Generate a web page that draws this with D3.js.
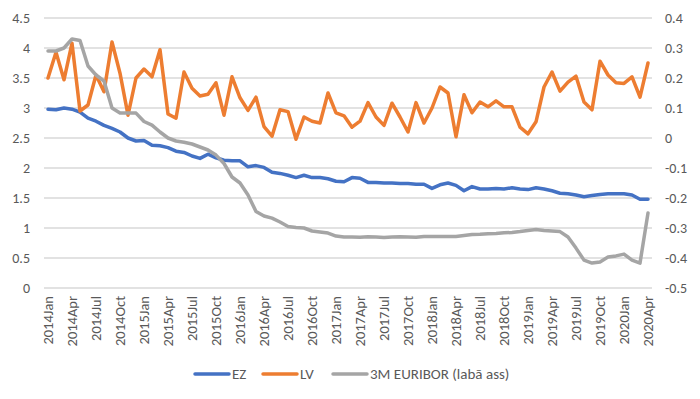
<!DOCTYPE html>
<html>
<head>
<meta charset="utf-8">
<script src="https://cdn.jsdelivr.net/npm/d3@7"></script>
<style>
  body { margin: 0; background: #fff; }
  text { font-family: Calibri, Carlito, "Liberation Sans", Arial, sans-serif; fill: #595959; }
</style>
</head>
<body>
<div id="chart"></div>
<script>
const years = [2014, 2015, 2016, 2017, 2018, 2019, 2020];
const monthNames = ['Jan', 'Feb', 'Mar', 'Apr', 'May', 'Jun', 'Jul', 'Aug', 'Sep', 'Oct', 'Nov', 'Dec'];
const categories = [];
years.forEach(y => monthNames.forEach(m => categories.push(y + m)));
categories.length = 76; // 2014Jan .. 2020Apr

const ez = [
    2.98, 2.97, 3.0, 2.98, 2.93, 2.83, 2.78, 2.71, 2.66, 2.6, 2.5, 2.45,
    2.46, 2.38, 2.37, 2.34, 2.28, 2.26, 2.2, 2.16, 2.23, 2.17, 2.13, 2.12,
    2.12, 2.02, 2.04, 2.01, 1.93, 1.91, 1.88, 1.84, 1.88, 1.84, 1.84, 1.82,
    1.78, 1.77, 1.84, 1.83, 1.76, 1.76, 1.75, 1.75, 1.74, 1.74, 1.73, 1.73,
    1.66, 1.72, 1.75, 1.71, 1.62, 1.69, 1.65, 1.65, 1.66, 1.65, 1.67, 1.65,
    1.64, 1.67, 1.65, 1.62, 1.58, 1.57, 1.55, 1.52, 1.54, 1.56, 1.57, 1.57,
    1.57, 1.55, 1.48, 1.48
];
const lv = [
    3.5, 3.93, 3.47, 4.08, 2.95, 3.05, 3.55, 3.27, 4.1, 3.58, 2.88, 3.5,
    3.65, 3.52, 3.97, 2.9, 2.83, 3.6, 3.33, 3.2, 3.23, 3.42, 2.88, 3.52,
    3.17, 2.96, 3.18, 2.69, 2.53, 2.97, 2.94, 2.48, 2.85, 2.78, 2.75, 3.25,
    2.92, 2.87, 2.68, 2.78, 3.09, 2.85, 2.71, 3.08, 2.85, 2.6, 3.09, 2.75,
    3.0, 3.35, 3.25, 2.52, 3.22, 2.92, 3.1, 3.02, 3.12, 3.02, 3.02, 2.68,
    2.57, 2.77, 3.35, 3.6, 3.28, 3.43, 3.53, 3.1, 2.97, 3.78, 3.55, 3.42,
    3.41, 3.52, 3.18, 3.75
];
const euribor = [
    0.29, 0.29, 0.30, 0.33, 0.325, 0.24, 0.21, 0.19, 0.10, 0.083, 0.083, 0.083,
    0.055, 0.043, 0.02, 0.0, -0.01, -0.014, -0.02, -0.03, -0.04, -0.057, -0.085, -0.13,
    -0.15, -0.19, -0.245, -0.26, -0.267, -0.28, -0.295, -0.298, -0.30, -0.31, -0.313, -0.317,
    -0.327, -0.33, -0.33, -0.331, -0.329, -0.33, -0.332, -0.33, -0.329, -0.33, -0.331, -0.328,
    -0.328, -0.328, -0.328, -0.328, -0.325, -0.322, -0.321, -0.319, -0.318, -0.316, -0.315, -0.312,
    -0.308, -0.305, -0.308, -0.31, -0.312, -0.33, -0.367, -0.407, -0.417, -0.413, -0.397, -0.393,
    -0.387, -0.407, -0.417, -0.25
];
const leftTicks = [0, 0.5, 1, 1.5, 2, 2.5, 3, 3.5, 4, 4.5];
const rightTicks = [-0.5, -0.4, -0.3, -0.2, -0.1, 0, 0.1, 0.2, 0.3, 0.4];
const legendLabels = ['EZ', 'LV', '3M EURIBOR (labā ass)'];
const colors = ['#4472C4', '#ED7D31', '#A5A5A5'];

const width = 700, height = 399,
    margin = { top: 18, right: 48, bottom: 111, left: 44 };

const svg = d3.select('#chart').append('svg')
    .attr('width', width)
    .attr('height', height);

const x = d3.scaleBand().domain(categories)
    .range([margin.left, width - margin.right]).padding(0);
const yL = d3.scaleLinear().domain([0, 4.5])
    .range([height - margin.bottom, margin.top]);
const yR = d3.scaleLinear().domain([-0.5, 0.4])
    .range([height - margin.bottom, margin.top]);
const cx = d => x(d) + x.bandwidth() / 2;

// gridlines
svg.append('g')
    .selectAll('line')
    .data(leftTicks)
    .enter().append('line')
    .attr('x1', margin.left)
    .attr('x2', width - margin.right)
    .attr('y1', d => yL(d))
    .attr('y2', d => yL(d))
    .attr('stroke', '#d9d9d9')
    .attr('stroke-width', 1.3);

const leftAxis = svg.append('g')
    .attr('transform', `translate(${margin.left},0)`)
    .call(d3.axisLeft(yL).tickValues(leftTicks).tickFormat(d => String(d)).tickSize(0).tickPadding(14));
const rightAxis = svg.append('g')
    .attr('transform', `translate(${width - margin.right},0)`)
    .call(d3.axisRight(yR).tickValues(rightTicks).tickFormat(d => String(d)).tickSize(0).tickPadding(13));
const xAxis = svg.append('g')
    .attr('transform', `translate(0,${height - margin.bottom})`)
    .call(d3.axisBottom(x).tickValues(categories.filter((d, i) => i % 3 === 0)).tickSize(0));

[leftAxis, rightAxis, xAxis].forEach(g => {
    g.select('.domain').remove();
    g.selectAll('text').attr('font-size', 14).attr('fill', '#595959')
        .attr('font-family', 'Calibri, Carlito, "Liberation Sans", Arial, sans-serif');
});
xAxis.selectAll('text')
    .attr('transform', 'rotate(-90)')
    .attr('text-anchor', 'end')
    .attr('font-size', 14.5)
    .attr('x', -8)
    .attr('y', 0)
    .attr('dy', '0.35em');

const lineL = d3.line().x((d, i) => cx(categories[i])).y(d => yL(d));
const lineR = d3.line().x((d, i) => cx(categories[i])).y(d => yR(d));

svg.append('path').datum(ez)
    .attr('fill', 'none').attr('stroke', colors[0]).attr('stroke-width', 3.5)
    .attr('stroke-linejoin', 'round').attr('stroke-linecap', 'round')
    .attr('d', lineL);
svg.append('path').datum(lv)
    .attr('fill', 'none').attr('stroke', colors[1]).attr('stroke-width', 3.5)
    .attr('stroke-linejoin', 'round').attr('stroke-linecap', 'round')
    .attr('d', lineL);
svg.append('path').datum(euribor)
    .attr('fill', 'none').attr('stroke', colors[2]).attr('stroke-width', 3.5)
    .attr('stroke-linejoin', 'round').attr('stroke-linecap', 'round')
    .attr('d', lineR);

// legend
const legendX = [195, 263, 333];
const legend = svg.append('g').attr('transform', 'translate(0,374)');
legendLabels.forEach((name, i) => {
    legend.append('line')
        .attr('x1', legendX[i]).attr('x2', legendX[i] + 34)
        .attr('y1', 0).attr('y2', 0)
        .attr('stroke', colors[i]).attr('stroke-width', 3.5).attr('stroke-linecap', 'round');
    legend.append('text')
        .attr('x', legendX[i] + 37).attr('y', 0).attr('dy', '0.35em')
        .attr('font-size', 15)
        .text(name);
});
</script>
</body>
</html>
